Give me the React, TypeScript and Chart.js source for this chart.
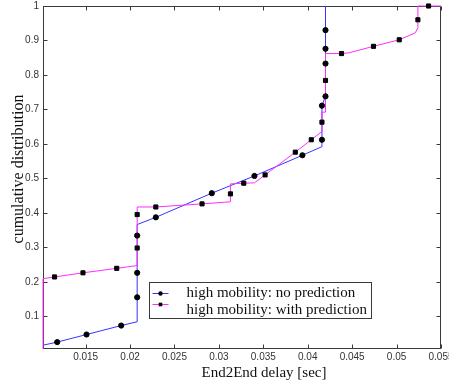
import { useEffect, useRef } from 'react';
import { Chart, registerables } from 'chart.js';

Chart.register(...registerables);

// Axis ticks
const xTickValues = [0.015, 0.02, 0.025, 0.03, 0.035, 0.04, 0.045, 0.05, 0.055];
const yTickValues = [0.1, 0.2, 0.3, 0.4, 0.5, 0.6, 0.7, 0.8, 0.9, 1];

// Axis range
const xRange = [0.0102, 0.055];
const yRange = [0.005, 1];

// High mobility, no prediction: CDF vertices (1 = vertex carries a marker)
const noPredDelay = [0.0102, 0.0118, 0.0151, 0.019, 0.0208, 0.0208, 0.0208, 0.0208, 0.0208, 0.0229, 0.0292, 0.034, 0.0394, 0.0416, 0.0416, 0.0416, 0.042, 0.042, 0.042, 0.042, 0.042];
const noPredCdf = [0.016, 0.025, 0.047, 0.073, 0.084, 0.155, 0.226, 0.334, 0.366, 0.387, 0.457, 0.507, 0.567, 0.592, 0.612, 0.711, 0.738, 0.833, 0.876, 0.93, 1.0];
const noPredMarked = [0, 1, 1, 1, 0, 1, 1, 1, 0, 1, 1, 1, 1, 0, 1, 1, 1, 1, 1, 1, 0];

// High mobility, with prediction
const withPredDelay = [0.0102, 0.0102, 0.0115, 0.0147, 0.0185, 0.0208, 0.0208, 0.0208, 0.0208, 0.0229, 0.0281, 0.0313, 0.0313, 0.0313, 0.0328, 0.034, 0.0352, 0.0386, 0.0404, 0.0416, 0.0416, 0.0416, 0.042, 0.042, 0.042, 0.0438, 0.0446, 0.0474, 0.0503, 0.0521, 0.0524, 0.0524, 0.0524, 0.0536, 0.055];
const withPredCdf = [0.005, 0.209, 0.214, 0.226, 0.239, 0.247, 0.298, 0.395, 0.417, 0.417, 0.426, 0.432, 0.455, 0.484, 0.486, 0.487, 0.51, 0.576, 0.612, 0.636, 0.663, 0.692, 0.692, 0.784, 0.862, 0.862, 0.864, 0.883, 0.902, 0.922, 0.937, 0.96, 1.0, 1.0, 1.0];
const withPredMarked = [0, 0, 1, 1, 1, 0, 1, 1, 0, 1, 1, 0, 1, 0, 1, 0, 1, 1, 1, 0, 1, 0, 0, 1, 0, 1, 0, 1, 1, 0, 0, 1, 0, 1, 0];

const seriesLabels = ['high mobility: no prediction', 'high mobility: with prediction'];
const xTitle = 'End2End delay [sec]';
const yTitle = 'cumulative distribution';

const BLUE = '#3434ff';
const MAGENTA = '#ff2cff';
const FRAME = '#3a3a3a';
const SERIF = '"Liberation Serif", "Times New Roman", serif';
const SANS = '"Liberation Sans", Arial, sans-serif';

const toPoints = (xs: number[], ys: number[]) => xs.map((x, i) => ({ x, y: ys[i] }));
const marked = (xs: number[], ys: number[], flags: number[]) =>
  toPoints(xs, ys).filter((_, i) => flags[i] === 1);

const fmt = (v: number) => String(Number(v.toFixed(3)));

const framePlugin = {
  id: 'frame',
  beforeDatasetsDraw(chart: any) {
    const { ctx, chartArea: a, scales } = chart;
    const L = Math.round(a.left) + 0.5;
    const R = Math.round(a.right) - 0.5;
    const T = Math.round(a.top) + 0.5;
    const B = Math.round(a.bottom) - 0.5;
    ctx.save();
    ctx.strokeStyle = FRAME;
    ctx.lineWidth = 1;
    ctx.strokeRect(L, T, R - L, B - T);
    const len = 4;
    ctx.beginPath();
    for (const v of xTickValues) {
      const px = Math.round(scales.x.getPixelForValue(v)) + 0.5;
      ctx.moveTo(px, B);
      ctx.lineTo(px, B - len);
      ctx.moveTo(px, T);
      ctx.lineTo(px, T + len);
    }
    for (const v of yTickValues) {
      const py = Math.round(scales.y.getPixelForValue(v)) + 0.5;
      ctx.moveTo(L, py);
      ctx.lineTo(L + len, py);
      ctx.moveTo(R, py);
      ctx.lineTo(R - len, py);
    }
    ctx.stroke();
    ctx.restore();
  },
  afterDraw(chart: any) {
    const { ctx, chartArea: a } = chart;
    ctx.save();
    ctx.fillStyle = '#111';

    // axis titles
    ctx.font = `15px ${SERIF}`;
    ctx.textAlign = 'center';
    ctx.textBaseline = 'alphabetic';
    ctx.fillText(xTitle, a.left + 221, a.bottom + 28);

    ctx.save();
    ctx.font = `16px ${SERIF}`;
    ctx.translate(22.5, a.top + 163);
    ctx.rotate(-Math.PI / 2);
    ctx.fillText(yTitle, 0, 0);
    ctx.restore();

    // legend
    const bx = a.left + 106.5;
    const by = a.bottom - 66.5;
    const bw = 222;
    const bh = 36;
    ctx.fillStyle = '#fff';
    ctx.fillRect(bx, by, bw, bh);
    ctx.strokeStyle = FRAME;
    ctx.lineWidth = 1;
    ctx.strokeRect(bx, by, bw, bh);

    const rows = [
      { color: BLUE, style: 'circle', lineY: by + 11, textY: by + 14.5 },
      { color: MAGENTA, style: 'rect', lineY: by + 22, textY: by + 31 },
    ];
    rows.forEach((r, i) => {
      ctx.strokeStyle = r.color;
      ctx.beginPath();
      ctx.moveTo(bx + 3, r.lineY);
      ctx.lineTo(bx + 19, r.lineY);
      ctx.stroke();
      ctx.fillStyle = '#000';
      const cx = bx + 11;
      if (r.style === 'circle') {
        ctx.beginPath();
        ctx.arc(cx, r.lineY, 2.2, 0, Math.PI * 2);
        ctx.fill();
      } else {
        ctx.fillRect(cx - 1.8, r.lineY - 1.8, 3.6, 3.6);
      }
      ctx.fillStyle = '#111';
      ctx.font = `15px ${SERIF}`;
      ctx.textAlign = 'left';
      ctx.fillText(seriesLabels[i], bx + 37, r.textY);
    });
    ctx.restore();
  },
};

export default function App() {
  const canvasRef = useRef<HTMLCanvasElement | null>(null);

  useEffect(() => {
    const canvas = canvasRef.current;
    if (!canvas) return;
    const chart = new Chart(canvas, {
      type: 'scatter',
      data: {
        datasets: [
          {
            label: seriesLabels[0] + ' markers',
            data: marked(noPredDelay, noPredCdf, noPredMarked),
            showLine: false,
            pointStyle: 'circle',
            pointRadius: 2.6,
            pointBackgroundColor: '#000',
            pointBorderColor: '#000',
            pointBorderWidth: 1,
            clip: false,
          },
          {
            label: seriesLabels[1] + ' markers',
            data: marked(withPredDelay, withPredCdf, withPredMarked),
            showLine: false,
            pointStyle: 'rect',
            pointRadius: 2.9,
            pointBackgroundColor: '#000',
            pointBorderColor: '#000',
            pointBorderWidth: 1,
            clip: false,
          },
          {
            label: seriesLabels[1],
            data: toPoints(withPredDelay, withPredCdf),
            showLine: true,
            borderColor: MAGENTA,
            borderWidth: 1,
            pointRadius: 0,
            tension: 0,
            clip: false,
          },
          {
            label: seriesLabels[0],
            data: toPoints(noPredDelay, noPredCdf),
            showLine: true,
            borderColor: BLUE,
            borderWidth: 1,
            pointRadius: 0,
            tension: 0,
            clip: false,
          },
        ],
      },
      options: {
        responsive: false,
        animation: false,
        devicePixelRatio: 1,
        layout: { padding: { top: 6, right: 8, bottom: 0, left: 0 } },
        plugins: {
          legend: { display: false },
          tooltip: { enabled: false },
        },
        events: [],
        scales: {
          x: {
            type: 'linear',
            min: xRange[0],
            max: xRange[1],
            grid: { display: false, drawTicks: false },
            border: { display: false },
            afterBuildTicks: (scale: any) => {
              scale.ticks = xTickValues.map((value) => ({ value }));
            },
            afterFit: (scale: any) => {
              scale.height = 37;
              scale.paddingLeft = 0;
              scale.paddingRight = 0;
            },
            ticks: {
              autoSkip: false,
              maxRotation: 0,
              minRotation: 0,
              padding: 2,
              color: '#333',
              font: { family: SANS, size: 10 },
              callback: (v: any) => fmt(Number(v)),
            },
          },
          y: {
            type: 'linear',
            min: yRange[0],
            max: yRange[1],
            grid: { display: false, drawTicks: false },
            border: { display: false },
            afterBuildTicks: (scale: any) => {
              scale.ticks = yTickValues.map((value) => ({ value }));
            },
            afterFit: (scale: any) => {
              scale.width = 43;
              scale.paddingTop = 0;
              scale.paddingBottom = 0;
            },
            ticks: {
              padding: 4,
              color: '#333',
              font: { family: SANS, size: 10 },
              callback: (v: any) => fmt(Number(v)),
            },
          },
        },
      },
      plugins: [framePlugin],
    } as any);
    return () => chart.destroy();
  }, []);

  return (
    <div style={{ position: 'fixed', left: 0, top: 0, width: 449, height: 386, background: '#fff' }}>
      <canvas ref={canvasRef} width={449} height={386} style={{ display: 'block' }} />
    </div>
  );
}
